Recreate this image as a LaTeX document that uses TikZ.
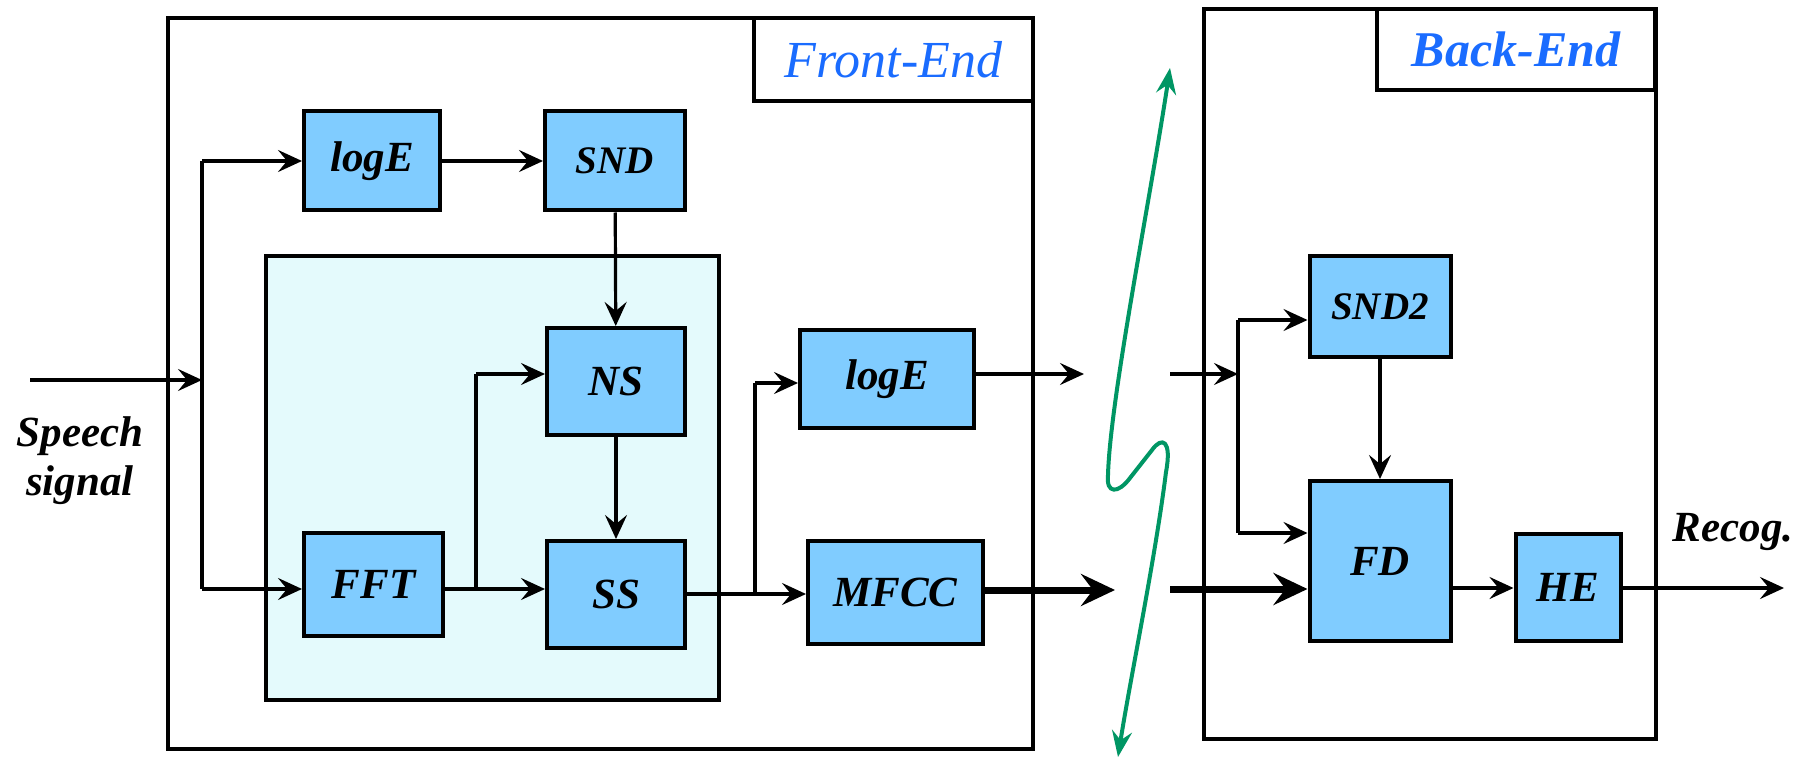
\documentclass[tikz,border=0pt]{standalone}
\usepackage{fontspec}
\setmainfont{Liberation Serif}
\usetikzlibrary{arrows.meta}
\definecolor{boxblue}{RGB}{128,204,255}
\definecolor{cyanbg}{RGB}{228,250,252}
\definecolor{lblblue}{RGB}{26,108,255}
\definecolor{wirecol}{RGB}{0,150,100}
\begin{document}
\begin{tikzpicture}[x=1pt,y=-1pt,
  blk/.style={draw,line width=4pt,fill=boxblue,inner sep=0pt,
    font=\fontsize{43}{48}\selectfont\bfseries\itshape},
  smallblk/.style={blk,font=\fontsize{39}{44}\selectfont\bfseries\itshape},
  labbox/.style={draw,line width=4pt,fill=white,inner sep=0pt,text=lblblue},
  frame/.style={draw,line width=3.4pt},
  wire/.style={line width=3.2pt},
  arr/.style={line width=3.2pt,-{Stealth[length=24pt,width=22pt,inset=9pt]}},
  thickarr/.style={line width=7pt,-{Stealth[length=34pt,width=32pt,inset=12pt]}},
  txt/.style={inner sep=0pt,font=\fontsize{43}{49}\selectfont\bfseries\itshape,align=center}]
\useasboundingbox (0,0) rectangle (1793,759);
% frames
\draw[frame] (168,18) rectangle (1033,749);
\draw[frame] (1204,9) rectangle (1656,739);
\draw[line width=3.4pt,fill=cyanbg] (266,256) rectangle (719,700);
\node[labbox,minimum width=279pt,minimum height=83pt,
  font=\fontsize{52}{56}\selectfont\itshape] (fel) at (893.5,59.5) {Front-End};
\node[labbox,minimum width=278pt,minimum height=81pt,
  font=\fontsize{50}{54}\selectfont\bfseries\itshape] (bel) at (1516,49.5) {Back-End};
% blocks
\node[blk,minimum width=136pt,minimum height=99pt] (loge1) at (372,161) {logE};
\node[smallblk,minimum width=140pt,minimum height=99pt] (snd) at (615,161) {SND};
\node[blk,minimum width=138pt,minimum height=107pt] (ns) at (616,381.5) {NS};
\node[blk,minimum width=138pt,minimum height=107pt] (ss) at (616,594.5) {SS};
\node[blk,minimum width=139pt,minimum height=103pt] (fft) at (373.5,584.5) {FFT};
\node[blk,minimum width=174pt,minimum height=98pt] (loge2) at (887,379) {logE};
\node[blk,minimum width=175pt,minimum height=103pt] (mfcc) at (895.5,592.5) {MFCC};
\node[smallblk,minimum width=141pt,minimum height=101pt] (snd2) at (1380,306.5) {SND2};
\node[blk,minimum width=141pt,minimum height=160pt] (fd) at (1380,561) {FD};
\node[blk,minimum width=105pt,minimum height=107pt] (he) at (1568,587.5) {HE};
% texts
\node[txt] (speech) at (80,461) {Speech\\signal};
\node[txt] (recog) at (1733,532) {Recog.};
% coordinates
\coordinate (in0) at (30,380);
\coordinate (j1) at (202,380);
\coordinate (j1t) at (202,161);
\coordinate (j1b) at (202,589);
\coordinate (j2) at (476,589);
\coordinate (j2t) at (476,374);
\coordinate (j3) at (755,594);
\coordinate (j3t) at (755,383);
\coordinate (o1) at (1084,374);
\coordinate (o2) at (1115,590);
\coordinate (b1) at (1170,374);
\coordinate (j4) at (1238,374);
\coordinate (j4t) at (1238,320);
\coordinate (j4b) at (1238,533);
\coordinate (b2) at (1170,589);
\coordinate (out) at (1784,588);
% front-end connectors
\draw[arr] (in0) -- (j1);
\draw[wire] (j1t) -- (j1b);
\draw[arr] (j1t) -- (j1t -| loge1.west);
\draw[arr] (j1b) -- (j1b -| fft.west);
\draw[arr] (loge1) -- (snd);
\draw[arr] (snd) -- (ns);
\draw[arr] (ns) -- (ss);
\draw[arr] (j1b -| fft.east) -- (j1b -| ss.west);
\draw[wire] (j2) -- (j2t);
\draw[arr] (j2t) -- (j2t -| ns.west);
\draw[arr] (j3 -| ss.east) -- (j3 -| mfcc.west);
\draw[wire] (j3) -- (j3t);
\draw[arr] (j3t) -- (j3t -| loge2.west);
\draw[arr] (o1 -| loge2.east) -- (o1);
\draw[thickarr] (o2 -| mfcc.east) -- (o2);
% back-end connectors
\draw[arr] (b1) -- (j4);
\draw[wire] (j4t) -- (j4b);
\draw[arr] (j4t) -- (j4t -| snd2.west);
\draw[arr] (j4b) -- (j4b -| fd.west);
\draw[thickarr] (b2) -- (b2 -| fd.west);
\draw[arr] (snd2) -- (fd);
\draw[arr] (out -| fd.east) -- (out -| he.west);
\draw[arr] (out -| he.east) -- (out);
% wireless link
\draw[line width=4pt,wirecol,{Stealth[length=26pt,width=20pt,inset=9pt]}-{Stealth[length=26pt,width=20pt,inset=9pt]}]
  (1170,68) .. controls (1150,200) and (1110,400) .. (1108,475)
  .. controls (1106,494) and (1118,494) .. (1130,478)
  -- (1152,450) .. controls (1162,436) and (1172,440) .. (1166,472)
  .. controls (1155,560) and (1130,680) .. (1118,757);
\end{tikzpicture}
\end{document}
